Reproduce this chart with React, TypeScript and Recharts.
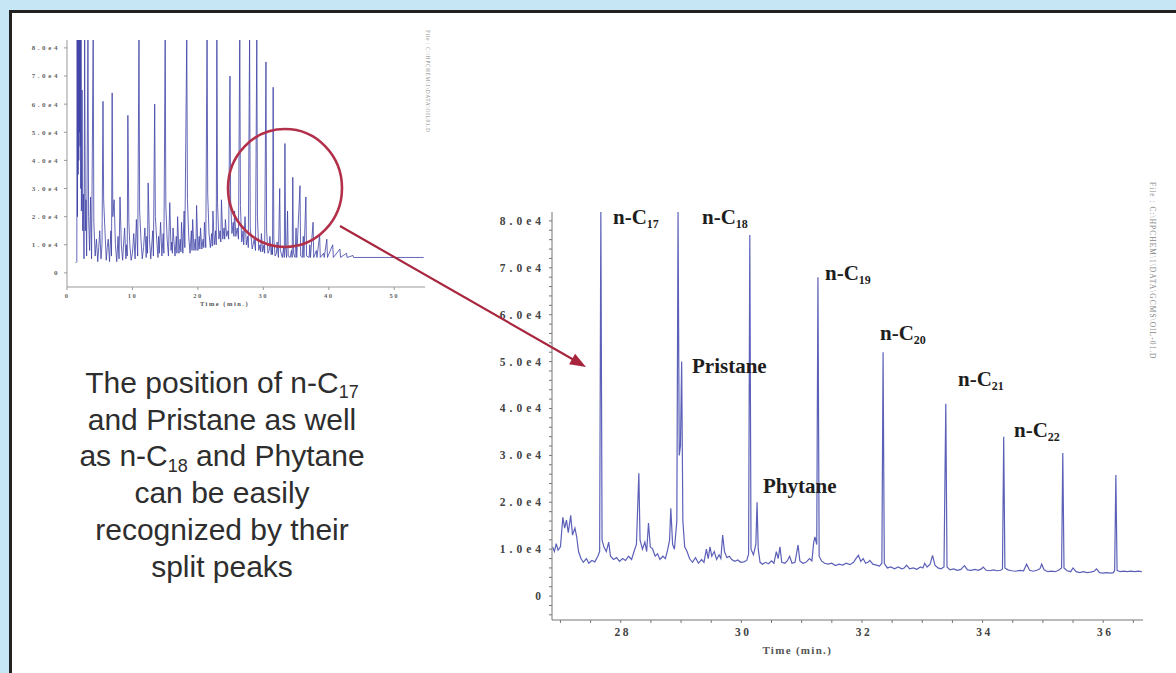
import React from 'react';
import { LineChart, Line, XAxis, YAxis } from 'recharts';

// full-run chromatogram (time in min, abundance in units of 1e4)
const overviewTrace: [number, number][] = [
  [1.3, 0.35], [1.5, 0.4], [1.55, 8.5], [1.6, 2.0], [1.65, 8.5], [1.7, 3.5], [1.75, 8.5], [1.8, 4.0],
  [1.85, 8.5], [1.9, 5.0], [1.95, 8.5], [2.0, 4.5], [2.05, 8.5], [2.1, 3.0], [2.15, 8.5], [2.2, 2.2],
  [2.3, 6.5], [2.4, 1.5], [2.5, 2.8], [2.6, 0.5], [2.7, 8.5], [2.8, 1.5], [2.9, 2.6], [3.0, 0.6],
  [3.2, 8.5], [3.3, 2.0], [3.45, 0.8], [3.6, 2.7], [3.75, 0.5], [4.0, 8.5], [4.1, 1.8], [4.3, 0.6],
  [4.5, 1.2], [4.7, 0.4], [4.85, 0.9], [5.0, 1.5], [5.2, 0.5], [5.35, 1.0], [5.5, 6.1], [5.6, 2.6],
  [5.8, 1.5], [6.0, 0.45], [6.15, 0.9], [6.3, 1.2], [6.5, 0.4], [6.7, 1.5], [6.8, 0.6], [6.9, 6.4],
  [7.0, 2.0], [7.2, 2.6], [7.4, 1.0], [7.6, 0.4], [7.8, 1.3], [7.95, 0.5], [8.1, 2.7], [8.3, 1.0],
  [8.5, 0.45], [8.8, 1.6], [9.0, 0.5], [9.1, 1.0], [9.2, 0.6], [9.3, 5.6], [9.45, 1.8], [9.6, 1.0],
  [9.8, 0.45], [10.0, 0.7], [10.2, 1.4], [10.4, 0.5], [10.6, 1.9], [10.8, 0.6], [11.0, 8.5], [11.1, 2.2],
  [11.3, 1.2], [11.5, 0.5], [11.7, 0.9], [11.9, 1.6], [12.1, 0.55], [12.2, 1.3], [12.3, 0.7], [12.4, 3.2],
  [12.6, 1.2], [12.8, 0.5], [13.1, 1.5], [13.2, 0.6], [13.4, 6.0], [13.5, 2.0], [13.7, 1.2], [13.9, 0.55],
  [14.0, 1.3], [14.1, 0.7], [14.3, 1.8], [14.5, 0.6], [14.7, 1.4], [14.8, 0.7], [15.0, 8.5], [15.1, 2.4],
  [15.3, 1.2], [15.5, 0.6], [15.7, 2.5], [15.9, 0.8], [16.0, 1.1], [16.1, 0.7], [16.2, 1.6], [16.5, 0.6],
  [16.7, 1.3], [16.8, 0.7], [16.9, 2.0], [17.1, 0.7], [17.3, 1.2], [17.4, 0.75], [17.5, 1.8], [17.7, 0.7],
  [17.9, 2.2], [18.0, 0.9], [18.3, 8.5], [18.4, 2.6], [18.6, 1.3], [18.8, 0.7], [19.0, 1.5], [19.1, 0.8],
  [19.2, 1.9], [19.4, 0.8], [19.6, 1.2], [19.7, 0.8], [19.8, 2.4], [20.0, 0.8], [20.2, 1.3], [20.3, 0.85],
  [20.4, 1.6], [20.6, 0.85], [20.8, 1.2], [20.9, 0.9], [21.0, 1.8], [21.2, 0.9], [21.4, 8.5], [21.5, 2.8],
  [21.7, 1.4], [21.9, 0.9], [22.1, 1.4], [22.2, 0.95], [22.3, 2.2], [22.5, 1.0], [22.7, 1.5], [22.8, 1.0],
  [22.9, 8.5], [23.0, 2.5], [23.2, 1.2], [23.4, 1.5], [23.5, 1.1], [23.6, 2.6], [23.8, 1.2], [24.0, 1.6],
  [24.1, 1.2], [24.2, 1.9], [24.4, 1.3], [24.6, 1.5], [24.7, 1.2], [24.9, 7.0], [25.0, 2.6], [25.2, 1.4],
  [25.4, 1.8], [25.5, 1.3], [25.6, 2.2], [25.8, 1.3], [26.0, 1.6], [26.2, 1.2], [26.4, 8.5], [26.5, 2.4],
  [26.7, 1.1], [26.9, 1.5], [27.0, 1.0], [27.2, 2.0], [27.4, 1.0], [27.6, 1.3], [27.7, 0.9], [27.9, 8.5],
  [28.0, 1.6], [28.3, 0.85], [28.6, 1.2], [28.8, 0.8], [29.0, 8.5], [29.1, 2.0], [29.3, 0.8], [29.5, 1.0],
  [29.6, 0.75], [29.7, 1.4], [29.9, 0.75], [30.1, 1.0], [30.2, 0.7], [30.4, 7.5], [30.5, 1.5], [30.7, 0.7],
  [30.9, 0.8], [31.0, 1.3], [31.2, 0.65], [31.35, 1.0], [31.4, 0.65], [31.5, 6.6], [31.6, 1.2], [31.8, 0.6],
  [32.0, 0.7], [32.1, 1.1], [32.3, 0.55], [32.5, 3.0], [32.6, 0.8], [32.9, 0.55], [33.1, 0.9], [33.2, 0.55],
  [33.3, 4.6], [33.4, 0.9], [33.55, 0.55], [33.7, 2.2], [33.8, 0.6], [34.1, 0.55], [34.3, 0.8], [34.4, 0.55],
  [34.5, 3.4], [34.6, 0.7], [34.85, 0.55], [35.0, 1.6], [35.1, 0.55], [35.6, 3.1], [35.7, 0.6], [35.95, 0.55],
  [36.1, 1.3], [36.2, 0.55], [36.5, 2.7], [36.6, 0.6], [37.0, 0.55], [37.1, 1.0], [37.2, 0.55], [37.6, 1.8],
  [37.7, 0.55], [38.1, 0.8], [38.2, 0.55], [38.6, 1.35], [38.7, 0.55], [39.2, 0.7], [39.3, 0.55], [39.7, 1.2],
  [39.8, 0.55], [40.6, 1.0], [40.7, 0.55], [41.7, 0.85], [41.8, 0.55], [42.7, 0.7], [42.8, 0.55], [43.7, 0.62],
  [43.8, 0.55], [54.5, 0.55],
];

// zoomed window 27-36.6 min
const detailTrace: [number, number][] = [
  [26.87, 1.05], [26.9, 0.95], [26.93, 1.12], [26.96, 0.98], [27.0, 1.05], [27.04, 1.68], [27.07, 1.45],
  [27.1, 1.62], [27.13, 1.35], [27.17, 1.72], [27.2, 1.3], [27.24, 1.45], [27.27, 1.26], [27.3, 0.95],
  [27.34, 0.8], [27.38, 0.72], [27.43, 0.8], [27.47, 0.7], [27.52, 0.76], [27.57, 0.73], [27.62, 0.85],
  [27.65, 0.95], [27.67, 8.2], [27.69, 1.2], [27.72, 1.05], [27.76, 0.95], [27.8, 1.15], [27.83, 0.85],
  [27.88, 0.78], [27.93, 0.82], [27.98, 0.74], [28.03, 0.8], [28.08, 0.76], [28.13, 0.85], [28.18, 0.78],
  [28.22, 0.95], [28.26, 1.1], [28.3, 2.62], [28.32, 1.2], [28.36, 1.0], [28.4, 1.15], [28.43, 0.95],
  [28.46, 1.56], [28.49, 1.05], [28.53, 1.0], [28.57, 0.85], [28.61, 0.9], [28.65, 0.78], [28.7, 0.85],
  [28.74, 0.8], [28.78, 1.0], [28.81, 1.2], [28.83, 1.87], [28.86, 1.1], [28.89, 1.0], [28.93, 1.6],
  [28.95, 8.2], [28.97, 3.0], [28.99, 3.2], [29.01, 5.0], [29.03, 1.6], [29.06, 1.05], [29.1, 0.95],
  [29.14, 0.8], [29.19, 0.72], [29.24, 0.82], [29.29, 0.7], [29.34, 0.78], [29.38, 0.72], [29.42, 1.0],
  [29.45, 0.8], [29.48, 1.05], [29.51, 0.85], [29.55, 0.95], [29.59, 0.78], [29.63, 0.88], [29.66, 0.8],
  [29.69, 1.3], [29.72, 0.95], [29.76, 0.82], [29.8, 0.85], [29.84, 0.78], [29.89, 0.74], [29.94, 0.77],
  [29.99, 0.72], [30.04, 0.73], [30.09, 0.76], [30.12, 0.9], [30.14, 7.7], [30.16, 1.0], [30.2, 0.88],
  [30.24, 1.1], [30.26, 2.0], [30.28, 1.0], [30.31, 0.72], [30.35, 0.68], [30.4, 0.72], [30.45, 0.69],
  [30.5, 0.75], [30.54, 0.7], [30.58, 0.95], [30.61, 0.8], [30.64, 1.05], [30.67, 0.72], [30.72, 0.7],
  [30.76, 0.75], [30.8, 0.85], [30.84, 0.7], [30.89, 0.72], [30.94, 1.09], [30.97, 0.75], [31.02, 0.7],
  [31.07, 0.72], [31.13, 0.8], [31.17, 0.75], [31.2, 1.15], [31.22, 1.26], [31.25, 1.1], [31.27, 6.8],
  [31.29, 0.85], [31.33, 0.75], [31.38, 0.7], [31.44, 0.68], [31.5, 0.7], [31.56, 0.65], [31.62, 0.68],
  [31.68, 0.66], [31.74, 0.7], [31.8, 0.67], [31.86, 0.72], [31.9, 0.8], [31.94, 0.87], [31.98, 0.74],
  [32.02, 0.8], [32.06, 0.7], [32.1, 0.72], [32.13, 0.76], [32.18, 0.68], [32.24, 0.66], [32.29, 0.64],
  [32.33, 0.7], [32.35, 5.2], [32.37, 0.7], [32.42, 0.6], [32.48, 0.62], [32.54, 0.58], [32.6, 0.62],
  [32.66, 0.58], [32.7, 0.6], [32.74, 0.66], [32.79, 0.58], [32.85, 0.6], [32.91, 0.57], [32.97, 0.62],
  [33.01, 0.6], [33.04, 0.7], [33.08, 0.62], [33.13, 0.68], [33.17, 0.87], [33.21, 0.66], [33.26, 0.6],
  [33.31, 0.58], [33.36, 0.62], [33.39, 4.1], [33.41, 0.62], [33.46, 0.56], [33.52, 0.58], [33.58, 0.55],
  [33.64, 0.57], [33.7, 0.65], [33.75, 0.56], [33.81, 0.55], [33.87, 0.57], [33.93, 0.55], [33.98, 0.58],
  [34.01, 0.62], [34.06, 0.55], [34.12, 0.54], [34.18, 0.56], [34.24, 0.54], [34.3, 0.55], [34.33, 0.58],
  [34.35, 3.4], [34.37, 0.6], [34.42, 0.56], [34.48, 0.54], [34.55, 0.53], [34.62, 0.55], [34.68, 0.54],
  [34.73, 0.68], [34.78, 0.55], [34.84, 0.53], [34.9, 0.55], [34.95, 0.58], [34.98, 0.68], [35.02, 0.56],
  [35.08, 0.52], [35.14, 0.53], [35.2, 0.52], [35.26, 0.55], [35.31, 0.6], [35.33, 3.05], [35.35, 0.6],
  [35.4, 0.54], [35.46, 0.52], [35.5, 0.6], [35.55, 0.52], [35.61, 0.5], [35.67, 0.52], [35.73, 0.5],
  [35.79, 0.51], [35.85, 0.53], [35.89, 0.58], [35.94, 0.5], [36.0, 0.49], [36.06, 0.5], [36.12, 0.49],
  [36.17, 0.5], [36.19, 0.55], [36.21, 2.58], [36.23, 0.55], [36.28, 0.52], [36.34, 0.53], [36.4, 0.52],
  [36.46, 0.53], [36.52, 0.52], [36.58, 0.53], [36.64, 0.52],
];

const overviewTimeTicks = [0, 10, 20, 30, 40, 50];
const overviewAbundanceTicks = [0, 1, 2, 3, 4, 5, 6, 7, 8];
// labelled every 2 min / 1e4, small marks in between
const detailTimeTicks = [27, 27.5, 28, 28.5, 29, 29.5, 30, 30.5, 31, 31.5, 32, 32.5, 33, 33.5, 34, 34.5, 35, 35.5, 36, 36.5];
const detailTimeLabels = [28, 30, 32, 34, 36];
const detailAbundanceTicks = [
  -0.4, -0.2, 0, 0.2, 0.4, 0.6, 0.8, 1, 1.2, 1.4, 1.6, 1.8, 2, 2.2, 2.4, 2.6, 2.8, 3, 3.2, 3.4, 3.6, 3.8,
  4, 4.2, 4.4, 4.6, 4.8, 5, 5.2, 5.4, 5.6, 5.8, 6, 6.2, 6.4, 6.6, 6.8, 7, 7.2, 7.4, 7.6, 7.8, 8,
];

const overviewData = overviewTrace.map(([t, v]) => ({ t, v }));
const detailData = detailTrace.map(([t, v]) => ({ t, v }));

const fmtAbundance = (v: number) => (v === 0 ? '0' : `${v.toFixed(1)}e4`);

const serif = '"Liberation Serif", "DejaVu Serif", serif';

const AxisTitle = ({ viewBox, frac, dy, size, spacing }: any) => {
  if (!viewBox) return null;
  return (
    <text
      x={viewBox.x + viewBox.width * frac}
      y={viewBox.y + dy}
      textAnchor="middle"
      fontFamily={serif}
      fontWeight="bold"
      fontSize={size}
      letterSpacing={spacing}
      fill="#555"
    >
      Time (min.)
    </text>
  );
};

const DetailYTick = ({ x, y, payload }: any) => {
  if (!Number.isInteger(payload.value)) return <g />;
  return (
    <text x={x} y={y} dy={4} textAnchor="end" fontFamily={serif} fontWeight="bold" fontSize={11.5} letterSpacing={4} fill="#444">
      {fmtAbundance(payload.value)}
    </text>
  );
};

const DetailXTick = ({ x, y, payload }: any) => {
  if (!detailTimeLabels.includes(payload.value)) return <g />;
  return (
    <text x={x + 2} y={y} dy={9} textAnchor="middle" fontFamily={serif} fontWeight="bold" fontSize={11.5} letterSpacing={2.5} fill="#444">
      {payload.value}
    </text>
  );
};

const OverviewChart = () => (
  <LineChart width={420} height={290} data={overviewData} margin={{ top: 15, right: 5, bottom: 0, left: 0 }}>
    <XAxis
      type="number"
      dataKey="t"
      domain={[0, 54.7]}
      ticks={overviewTimeTicks}
      interval={0}
      allowDataOverflow
      height={28}
      stroke="#999"
      tickSize={3}
      tickMargin={3}
      tick={{ fontSize: 6.5, fill: '#666', fontFamily: serif, fontWeight: 'bold', letterSpacing: 1.5 }}
      label={(p: any) => <AxisTitle {...p} frac={0.44} dy={19} size={6.5} spacing={1.5} />}
    />
    <YAxis
      type="number"
      domain={[-0.5, 8.28]}
      ticks={overviewAbundanceTicks}
      interval={0}
      allowDataOverflow
      width={57}
      stroke="#999"
      tickSize={3}
      tickMargin={4}
      tickFormatter={fmtAbundance}
      tick={{ fontSize: 7, fill: '#666', fontFamily: serif, fontWeight: 'bold', letterSpacing: 2.6 }}
    />
    <Line type="linear" dataKey="v" stroke="#3f43a6" strokeOpacity={0.9} strokeWidth={0.9} dot={false} isAnimationActive={false} />
  </LineChart>
);

const DetailChart = () => (
  <LineChart width={663} height={470} data={detailData} margin={{ top: 22, right: 10, bottom: 0, left: 0 }}>
    <XAxis
      type="number"
      dataKey="t"
      domain={[26.86, 36.66]}
      ticks={detailTimeTicks}
      interval={0}
      allowDataOverflow
      height={40}
      stroke="#777"
      tickSize={3}
      tickMargin={4}
      tick={<DetailXTick />}
      label={(p: any) => <AxisTitle {...p} frac={0.415} dy={34} size={11} spacing={1.3} />}
    />
    <YAxis
      type="number"
      domain={[-0.51, 8.19]}
      ticks={detailAbundanceTicks}
      interval={0}
      allowDataOverflow
      width={62}
      stroke="#777"
      tickSize={3}
      tickMargin={4}
      tick={<DetailYTick />}
    />
    <Line type="linear" dataKey="v" stroke="#5c60b8" strokeWidth={1.2} dot={false} isAnimationActive={false} />
  </LineChart>
);

const PeakLabel = ({ x, y, name, sub }: { x: number; y: number; name: string; sub?: string }) => (
  <text x={x} y={y} fontFamily={serif} fontWeight="bold" fontSize={21} fill="#1e1e1e">
    {name}
    {sub && (
      <tspan fontSize={12} dy={4}>
        {sub}
      </tspan>
    )}
  </text>
);

const Sub = ({ children }: { children: React.ReactNode }) => (
  <span style={{ fontSize: '0.6em', position: 'relative', top: '0.3em', lineHeight: 0 }}>{children}</span>
);

export default function App() {
  return (
    <div
      style={{
        position: 'absolute',
        left: 0,
        top: 0,
        width: 1176,
        height: 673,
        overflow: 'hidden',
        background: '#c6e6f6',
        fontFamily: '"Liberation Sans", Arial, sans-serif',
      }}
    >
      <div
        style={{
          position: 'absolute',
          left: 9,
          top: 10,
          width: 1220,
          height: 720,
          background: '#fff',
          border: '3px solid #222',
          boxSizing: 'border-box',
        }}
      />
      <div style={{ position: 'absolute', left: 10, top: 25 }}>
        <OverviewChart />
      </div>
      <div style={{ position: 'absolute', left: 490, top: 190 }}>
        <DetailChart />
      </div>

      <div
        style={{
          position: 'absolute',
          left: 0,
          width: 444,
          top: 365,
          textAlign: 'center',
          fontSize: 30,
          lineHeight: '36.7px',
          color: '#2e2e2e',
        }}
      >
        The position of n-C<Sub>17</Sub>
        <br />
        and Pristane as well
        <br />
        as n-C<Sub>18</Sub> and Phytane
        <br />
        can be easily
        <br />
        recognized by their
        <br />
        split peaks
      </div>

      <svg width={1176} height={673} style={{ position: 'absolute', left: 0, top: 0, pointerEvents: 'none' }}>
        <ellipse cx={285} cy={188} rx={57} ry={59} fill="none" stroke="#b3304a" strokeWidth={2.6} />
        <line x1={340} y1={226} x2={574} y2={360} stroke="#a8263d" strokeWidth={2.2} />
        <polygon points="586,367 575.1,353.8 569.1,364.3" fill="#a8263d" />

        <PeakLabel x={613} y={224} name="n-C" sub="17" />
        <PeakLabel x={702} y={224} name="n-C" sub="18" />
        <PeakLabel x={825} y={280} name="n-C" sub="19" />
        <PeakLabel x={880} y={340} name="n-C" sub="20" />
        <PeakLabel x={958} y={386} name="n-C" sub="21" />
        <PeakLabel x={1014} y={437} name="n-C" sub="22" />
        <PeakLabel x={692} y={373} name="Pristane" />
        <PeakLabel x={763} y={493} name="Phytane" />

        <text transform="translate(426,30) rotate(90)" fontSize={5.5} fill="#888" fontFamily={serif} letterSpacing={0.6}>
          File : C:\HPCHEM\1\DATA\OIL01.D
        </text>
        <text transform="translate(1150,182) rotate(90)" fontSize={7.5} fill="#888" fontFamily={serif} letterSpacing={1}>
          File : C:\HPCHEM\1\DATA\GCMS\OIL-01.D
        </text>
      </svg>
    </div>
  );
}
